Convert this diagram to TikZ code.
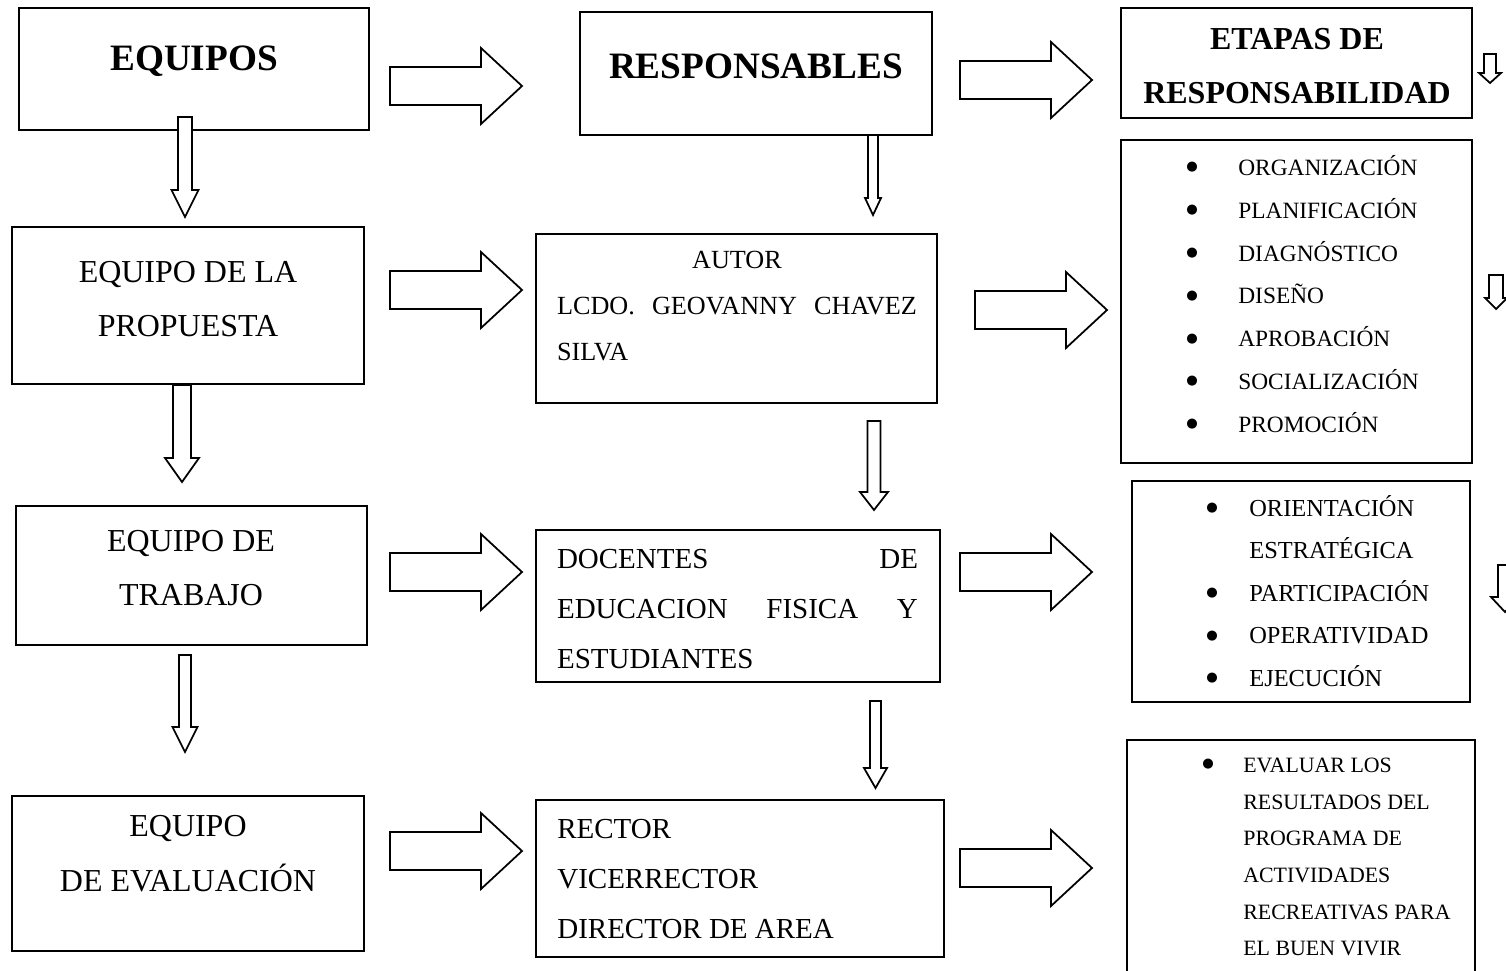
\documentclass[tikz,border=0pt]{standalone}
\usepackage{fontspec}
\setmainfont{Liberation Serif}
\newfontfamily\symfont{DejaVu Sans}
\tikzset{
    box/.style = {rectangle, draw=black, line width=1pt},
    boxtxt/.style = {inner sep=0pt, align=center},
    boxtxtl/.style = {inner sep=0pt, align=left, anchor=west},
    blockar/.style = {draw=black, line width=1pt, fill=white},
    fbig/.style = {font=\bfseries\fontsize{21.2}{24}\selectfont},
    fhead/.style = {font=\bfseries\fontsize{18.2}{30.6}\selectfont},
    fteam/.style = {font=\fontsize{18.2}{31.2}\selectfont},
    fresp/.style = {font=\fontsize{16.5}{28.6}\selectfont}
}
% right: x, y
\newcommand{\rarrow}[2]{\draw[blockar] (#1,#2) ++(0,-19) -- ++(91,0) -- ++(0,-19) -- ++(41,38) -- ++(-41,38) -- ++(0,-19) -- ++(-91,0) -- cycle;}
% down: x, top, head, tip, shaft, head width
\newcommand{\darrow}[6]{\draw[blockar] (#1-#5,#2) -- (#1+#5,#2) -- (#1+#5,#3) -- (#1+#6,#3) -- (#1,#4) -- (#1-#6,#3) -- (#1-#5,#3) -- cycle;}
\newcommand{\itm}[2]{\makebox[#1][l]{\raisebox{2.7pt}{\symfont\fontsize{7.5}{7.5}\selectfont ●}}#2}

\begin{document}
\begin{tikzpicture}[x=0.02cm, y=-0.02cm]
\useasboundingbox (0,0) rectangle (1506,970);
%
\node[box, minimum width=7cm, minimum height=2.44cm] (equipos) at (194,69) {};
\node[box, minimum width=7.04cm, minimum height=3.14cm] (prop) at (188,305.5) {};
\node[box, minimum width=7.02cm, minimum height=2.78cm] (trab) at (191.5,575.5) {};
\node[box, minimum width=7.04cm, minimum height=3.1cm] (eval) at (188,873.5) {};
\node[box, minimum width=7.04cm, minimum height=2.46cm] (resp) at (756,73.5) {};
\node[box, minimum width=8.02cm, minimum height=3.38cm] (autor) at (736.5,318.5) {};
\node[box, minimum width=8.08cm, minimum height=3.04cm] (doc) at (738,606) {};
\node[box, minimum width=8.16cm, minimum height=3.14cm] (rector) at (740,878.5) {};
\node[box, minimum width=7.02cm, minimum height=2.2cm] (etapas) at (1296.5,63) {};
\node[box, minimum width=7.02cm, minimum height=6.46cm] (org) at (1296.5,301.5) {};
\node[box, minimum width=6.76cm, minimum height=4.42cm] (ori) at (1301,591.5) {};
\node[box, minimum width=6.96cm, minimum height=5cm] (evl) at (1301,865) {};
%
\rarrow{390}{86}
\rarrow{960}{80}
\rarrow{390}{290}
\rarrow{975}{310}
\rarrow{390}{572}
\rarrow{960}{572}
\rarrow{390}{851}
\rarrow{960}{868}
%
\darrow{185}{117}{190}{217}{7}{13.5}
\darrow{182}{385}{458}{482}{9}{17}
\darrow{185}{655}{727}{752}{6}{12.5}
\darrow{873}{135}{198}{215}{5}{8}
\darrow{874}{421}{492}{510}{6.5}{14}
\darrow{875.5}{701}{768}{788}{5.5}{11.5}
\darrow{1490}{54}{73}{83}{6}{11}
\darrow{1496}{275}{298}{309}{7}{11}
\darrow{1505}{565}{597}{612}{7}{14}
%
\node[boxtxt, fbig] (equipos-t) at (194,61) {EQUIPOS};
\node[boxtxt, fbig] (resp-t) at (756,66) {RESPONSABLES};
\node[boxtxt, fhead] (etapas-t) at (1297,66) {ETAPAS DE\\RESPONSABILIDAD};
\node[boxtxt, fteam] (prop-t) at (188,299) {EQUIPO DE LA\\PROPUESTA};
\node[boxtxt, fteam] (trab-t) at (191,568) {EQUIPO DE\\TRABAJO};
\node[boxtxt, fteam] (eval-t) at (188,854) {EQUIPO\\DE EVALUACIÓN};
\node[boxtxt, text width=7.2cm, align=left, font=\fontsize{14.9}{26.4}\selectfont] (autor-t) at (737,306)
    {\hfill AUTOR\hfill\mbox{}\\LCDO.\hfill GEOVANNY\hfill CHAVEZ\\SILVA};
\node[boxtxt, text width=7.22cm, align=left, fresp] (doc-t) at (737.5,609)
    {DOCENTES\hfill DE\\EDUCACION\hfill FISICA\hfill Y\\ESTUDIANTES};
\node[boxtxtl, fresp] (rector-t) at (557,879) {RECTOR\\VICERRECTOR\\DIRECTOR DE AREA};
\node[boxtxtl, font=\fontsize{13.3}{24.4}\selectfont] (org-t) at (1186,294)
    {\itm{1.04cm}{ORGANIZACIÓN}\\\itm{1.04cm}{PLANIFICACIÓN}\\\itm{1.04cm}{DIAGNÓSTICO}\\\itm{1.04cm}{DISEÑO}\\
     \itm{1.04cm}{APROBACIÓN}\\\itm{1.04cm}{SOCIALIZACIÓN}\\\itm{1.04cm}{PROMOCIÓN}};
\node[boxtxtl, font=\fontsize{13.9}{24.2}\selectfont] (ori-t) at (1206,591)
    {\itm{0.86cm}{ORIENTACIÓN}\\\makebox[0.86cm]{}ESTRATÉGICA\\\itm{0.86cm}{PARTICIPACIÓN}\\
     \itm{0.86cm}{OPERATIVIDAD}\\\itm{0.86cm}{EJECUCIÓN}};
\node[boxtxtl, font=\fontsize{12.45}{20.9}\selectfont] (evl-t) at (1202,857)
    {\itm{0.82cm}{EVALUAR LOS}\\\makebox[0.82cm]{}RESULTADOS DEL\\\makebox[0.82cm]{}PROGRAMA DE\\
     \makebox[0.82cm]{}ACTIVIDADES\\\makebox[0.82cm]{}RECREATIVAS PARA\\\makebox[0.82cm]{}EL BUEN VIVIR};
\end{tikzpicture}
\end{document}
